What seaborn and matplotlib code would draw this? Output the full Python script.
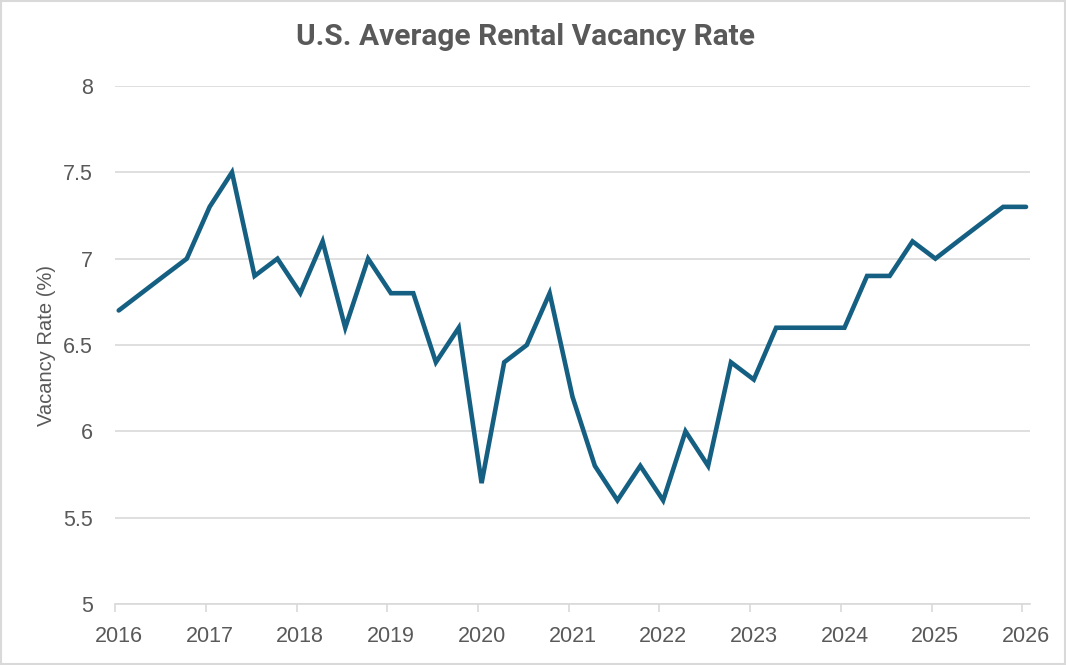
import matplotlib
matplotlib.use("Agg")
import matplotlib.pyplot as plt
from matplotlib import font_manager
from matplotlib.patches import Rectangle
import seaborn as sns
import pandas as pd

# ---- data ----
quarters = [f"{y}Q{q}" for y in range(2016, 2026) for q in range(1, 5)] + ["2026Q1"]
vacancy_rate = [
    6.7, 6.8, 6.9, 7.0,
    7.3, 7.5, 6.9, 7.0,
    6.8, 7.1, 6.6, 7.0,
    6.8, 6.8, 6.4, 6.6,
    5.7, 6.4, 6.5, 6.8,
    6.2, 5.8, 5.6, 5.8,
    5.6, 6.0, 5.8, 6.4,
    6.3, 6.6, 6.6, 6.6,
    6.6, 6.9, 6.9, 7.1,
    7.0, 7.1, 7.2, 7.3,
    7.3,
]
year_labels = [str(y) for y in range(2016, 2027)]
y_ticks = [5, 5.5, 6, 6.5, 7, 7.5, 8]
title = "U.S. Average Rental Vacancy Rate"
y_label = "Vacancy Rate (%)"

# dates: each quarter plotted at the middle of its first month
dates = pd.PeriodIndex(quarters, freq="Q").to_timestamp() + pd.Timedelta(days=15)
df = pd.DataFrame({"date": dates, "rate": vacancy_rate})

sns.set_theme(style="white")
avail = {f.name for f in font_manager.fontManager.ttflist}
title_family = "Liberation Sans Narrow" if "Liberation Sans Narrow" in avail else "Roboto"
plt.rcParams["font.family"] = ["Liberation Sans", "DejaVu Sans"]

TXT = "#595959"
GRID = "#D9D9D9"
LINE = "#156082"

fig = plt.figure(figsize=(10.66, 6.65), dpi=100)
ax = fig.add_axes([115 / 1066, 1 - 604 / 665, (1030 - 115) / 1066, (604 - 86) / 665])

sns.lineplot(data=df, x="date", y="rate", ax=ax, color=LINE, linewidth=3.3,
             solid_joinstyle="miter", solid_capstyle="round")

ax.set_ylim(5, 8)
ax.set_yticks(y_ticks)
ax.set_yticklabels([f"{t:g}" for t in y_ticks])
ax.set_xlim(pd.Timestamp("2016-01-01"), pd.Timestamp("2026-02-01"))

years = [pd.Timestamp(f"{y}-01-01") for y in year_labels]
ax.set_xticks(years)
ax.set_xticklabels([""] * len(years))
ax.set_xticks([y + pd.Timedelta(days=15) for y in years], minor=True)
ax.set_xticklabels(year_labels, minor=True)

ax.tick_params(axis="x", which="major", length=6, width=1.2, color=GRID, direction="out", bottom=True)
ax.tick_params(axis="x", which="minor", length=0, pad=15.5, labelsize=15.5, labelcolor=TXT, bottom=True)
ax.tick_params(axis="y", length=0, pad=16, labelsize=15.5, labelcolor=TXT)

ax.grid(axis="y", color=GRID, linewidth=1.2)
ax.grid(axis="x", visible=False)
ax.set_axisbelow(True)
for s in ["top", "right", "left"]:
    ax.spines[s].set_visible(False)
ax.spines["bottom"].set_color(GRID)
ax.spines["bottom"].set_linewidth(1.2)

ax.set_xlabel("")
ax.set_ylabel(y_label, fontsize=14.5, color=TXT, labelpad=5)

fig.text(526 / 1066, 1 - 37 / 665, title, ha="center", va="center",
         fontsize=21.5, fontweight="bold", color=TXT, family=[title_family, "DejaVu Sans"])

fig.patches.append(Rectangle((0.001, 0.0015), 0.998, 0.997, transform=fig.transFigure,
                             fill=False, edgecolor=GRID, linewidth=1.5))

fig.savefig("out.png", dpi=100, facecolor="white")
